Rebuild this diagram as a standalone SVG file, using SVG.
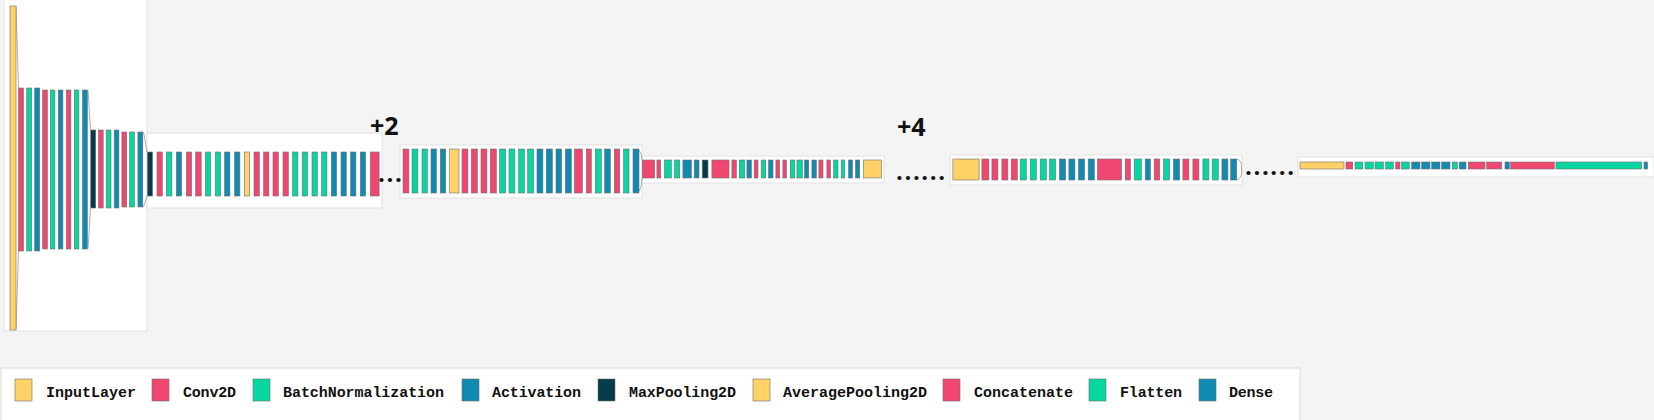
<svg xmlns="http://www.w3.org/2000/svg" width="1654" height="420" viewBox="0 0 1654 420">
<style>
.bg{fill:#f4f4f4}
.pn{fill:#ffffff;stroke:#e2e2e2;stroke-width:1}
rect.y,rect.r,rect.g,rect.b,rect.d{stroke:#6f6f6f;stroke-width:0.6}
.y{fill:#ffd166}.r{fill:#ef476f}.g{fill:#06d6a0}.b{fill:#118ab2}.d{fill:#073b4c}
.fn{fill:none;stroke:#9a9a9a;stroke-width:0.8}
.lg{font-family:"Liberation Mono",monospace;font-weight:bold;font-size:15px;fill:#111}
.pl{font-family:"Open Sans","Liberation Sans",sans-serif;font-weight:bold;font-size:25px;fill:#111}
.dt{font-family:"Open Sans","Liberation Sans",sans-serif;font-weight:bold;font-size:24px;fill:#111;letter-spacing:1.6px}
.sq{stroke:#333;stroke-width:1}
</style>
<rect class="bg" x="0" y="0" width="1654" height="420"/>
<g id="panels">
<rect class="pn" x="4" y="-1" width="143" height="332"/>
<rect class="pn" x="147" y="133" width="235" height="75"/>
<rect class="pn" x="400" y="145" width="242" height="53"/>
<rect class="pn" x="642" y="156" width="242" height="27"/>
<rect class="pn" x="950" y="155" width="292" height="30"/>
<rect class="pn" x="1298" y="157" width="356" height="20"/>
</g>
<g id="connectors">
<path class="fn" d="M16,6 L18.5,88 M16,330 L18.5,251"/>
<path class="fn" d="M88,90 L90.5,130 M88,249 L90.5,208"/>
<path class="fn" d="M143.5,132 L147,152 M143.5,207 L147,196"/>
<path class="fn" d="M636,149 Q642,151 642,160 M642,178 Q642,191 636,193"/>
<path class="fn" d="M1236,159 Q1241.5,160 1241.5,166 L1241.5,173 Q1241.5,179 1236,180"/>
<text class="dt" x="378" y="182">...</text>
<text class="dt" x="896" y="180">......</text>
<text class="dt" x="1245" y="175">......</text>
</g>
<g id="input_layer">
<rect class="y" x="10" y="6" width="6" height="324"/>
</g>
<g id="block1">
<rect class="r" x="18.5" y="88" width="5" height="163"/>
<rect class="g" x="26.7" y="88" width="5" height="163"/>
<rect class="b" x="34.7" y="88" width="5" height="163"/>
<rect class="r" x="42.7" y="90" width="4.6" height="159"/>
<rect class="g" x="50.3" y="90" width="4.6" height="159"/>
<rect class="b" x="58.3" y="90" width="4.6" height="159"/>
<rect class="r" x="66.3" y="90" width="4.6" height="159"/>
<rect class="g" x="74.3" y="90" width="4.6" height="159"/>
<rect class="b" x="82.5" y="90" width="4.8" height="159"/>
</g>
<g id="block2">
<rect class="d" x="90.7" y="130" width="5" height="78"/>
<rect class="r" x="98.5" y="130" width="4.7" height="78"/>
<rect class="g" x="106.2" y="130" width="4.8" height="78"/>
<rect class="b" x="114.2" y="130" width="4.7" height="78"/>
<rect class="r" x="121.9" y="132" width="4.8" height="75"/>
<rect class="g" x="129.5" y="132" width="4.9" height="75"/>
<rect class="b" x="137.9" y="132" width="4.9" height="75"/>
</g>
<g id="block3">
<rect class="d" x="147.5" y="152" width="5" height="44"/>
<rect class="r" x="157" y="152" width="5.3" height="44"/>
<rect class="g" x="166.3" y="152" width="5.6" height="44"/>
<rect class="b" x="176.3" y="152" width="5.3" height="44"/>
<rect class="r" x="186.3" y="152" width="5.3" height="44"/>
<rect class="r" x="195.6" y="152" width="5.6" height="44"/>
<rect class="g" x="205.3" y="152" width="5.3" height="44"/>
<rect class="g" x="215.3" y="152" width="5.3" height="44"/>
<rect class="b" x="224.6" y="152" width="5.3" height="44"/>
<rect class="b" x="234.6" y="152" width="5.3" height="44"/>
<rect class="y" x="244.3" y="152" width="5.3" height="44"/>
<rect class="r" x="254" y="152" width="5.3" height="44"/>
<rect class="r" x="263.6" y="152" width="5.3" height="44"/>
<rect class="r" x="273" y="152" width="5.3" height="44"/>
<rect class="r" x="283" y="152" width="5.3" height="44"/>
<rect class="g" x="292.6" y="152" width="5.3" height="44"/>
<rect class="g" x="302.3" y="152" width="5.3" height="44"/>
<rect class="g" x="312" y="152" width="5.3" height="44"/>
<rect class="g" x="321.6" y="152" width="5.3" height="44"/>
<rect class="b" x="331.3" y="152" width="5.3" height="44"/>
<rect class="b" x="341" y="152" width="5.3" height="44"/>
<rect class="b" x="350.6" y="152" width="5.3" height="44"/>
<rect class="b" x="360.3" y="152" width="5.3" height="44"/>
<rect class="r" x="370.3" y="152" width="8.8" height="44"/>
</g>
<g id="block4">
<rect class="r" x="403" y="149" width="5.9" height="44"/>
<rect class="g" x="412" y="149" width="5.9" height="44"/>
<rect class="g" x="422" y="149" width="5.4" height="44"/>
<rect class="b" x="431" y="149" width="5.4" height="44"/>
<rect class="b" x="440.3" y="149" width="5.4" height="44"/>
<rect class="y" x="449.6" y="149" width="9.4" height="44"/>
<rect class="r" x="462" y="149" width="5.9" height="44"/>
<rect class="r" x="471.3" y="149" width="6" height="44"/>
<rect class="r" x="481" y="149" width="5.9" height="44"/>
<rect class="r" x="490.3" y="149" width="6" height="44"/>
<rect class="g" x="499.6" y="149" width="6" height="44"/>
<rect class="g" x="509" y="149" width="5.9" height="44"/>
<rect class="g" x="518.6" y="149" width="5.7" height="44"/>
<rect class="g" x="527.6" y="149" width="6" height="44"/>
<rect class="b" x="537" y="149" width="5.9" height="44"/>
<rect class="b" x="546.3" y="149" width="6" height="44"/>
<rect class="b" x="556" y="149" width="5.6" height="44"/>
<rect class="b" x="565.3" y="149" width="6" height="44"/>
<rect class="r" x="574.3" y="149" width="8" height="44"/>
<rect class="r" x="586.3" y="149" width="5" height="44"/>
<rect class="g" x="595.3" y="149" width="6" height="44"/>
<rect class="b" x="604.6" y="149" width="5.7" height="44"/>
<rect class="r" x="614.3" y="149" width="5.4" height="44"/>
<rect class="g" x="623.6" y="149" width="5.4" height="44"/>
<rect class="b" x="633" y="149" width="6" height="44"/>
</g>
<g id="block5">
<rect class="r" x="642.3" y="160" width="12.3" height="18"/>
<rect class="r" x="656.9" y="160" width="3.8" height="18"/>
<rect class="g" x="664.5" y="160" width="6.9" height="18"/>
<rect class="g" x="674.5" y="160" width="5.2" height="18"/>
<rect class="b" x="682.9" y="160" width="8.5" height="18"/>
<rect class="b" x="694.2" y="160" width="4.8" height="18"/>
<rect class="d" x="702.2" y="160" width="5.8" height="18"/>
<rect class="r" x="711.9" y="160" width="17.1" height="18"/>
<rect class="r" x="731.9" y="160" width="4.5" height="18"/>
<rect class="g" x="739.2" y="160" width="5.5" height="18"/>
<rect class="b" x="746.9" y="160" width="4.5" height="18"/>
<rect class="r" x="754.2" y="160" width="3.8" height="18"/>
<rect class="g" x="761.2" y="160" width="4.5" height="18"/>
<rect class="b" x="768.5" y="160" width="4.5" height="18"/>
<rect class="r" x="775.9" y="160" width="3.8" height="18"/>
<rect class="r" x="782.9" y="160" width="3.6" height="18"/>
<rect class="g" x="790.2" y="160" width="4.5" height="18"/>
<rect class="g" x="796.9" y="160" width="5.5" height="18"/>
<rect class="b" x="804.5" y="160" width="4.2" height="18"/>
<rect class="b" x="811.9" y="160" width="4.5" height="18"/>
<rect class="r" x="818.9" y="160" width="4.1" height="18"/>
<rect class="r" x="826.9" y="160" width="3.6" height="18"/>
<rect class="g" x="833.5" y="160" width="4.5" height="18"/>
<rect class="g" x="841.2" y="160" width="3.6" height="18"/>
<rect class="b" x="848.5" y="160" width="4" height="18"/>
<rect class="b" x="855.5" y="160" width="4.2" height="18"/>
<rect class="y" x="863.5" y="160" width="18" height="18"/>
</g>
<g id="block6">
<rect class="y" x="952.9" y="159" width="26.2" height="21"/>
<rect class="r" x="981.9" y="159" width="7" height="21"/>
<rect class="r" x="991.9" y="159" width="6" height="21"/>
<rect class="r" x="1001.9" y="159" width="6" height="21"/>
<rect class="r" x="1011.2" y="159" width="6.1" height="21"/>
<rect class="g" x="1020.2" y="159" width="6.1" height="21"/>
<rect class="g" x="1030.2" y="159" width="6.1" height="21"/>
<rect class="g" x="1040.2" y="159" width="6.1" height="21"/>
<rect class="g" x="1049.5" y="159" width="6.1" height="21"/>
<rect class="b" x="1059.5" y="159" width="6.1" height="21"/>
<rect class="b" x="1068.9" y="159" width="6" height="21"/>
<rect class="b" x="1078.5" y="159" width="6.1" height="21"/>
<rect class="b" x="1088.2" y="159" width="6.1" height="21"/>
<rect class="r" x="1097.5" y="159" width="24" height="21"/>
<rect class="r" x="1125.2" y="159" width="5.2" height="21"/>
<rect class="g" x="1134.2" y="159" width="7.2" height="21"/>
<rect class="b" x="1145.2" y="159" width="5.2" height="21"/>
<rect class="r" x="1154.2" y="159" width="5.5" height="21"/>
<rect class="g" x="1163.5" y="159" width="6.1" height="21"/>
<rect class="b" x="1173.5" y="159" width="6.1" height="21"/>
<rect class="r" x="1182.9" y="159" width="6" height="21"/>
<rect class="r" x="1192.9" y="159" width="6" height="21"/>
<rect class="g" x="1202.9" y="159" width="6" height="21"/>
<rect class="g" x="1212.2" y="159" width="6.1" height="21"/>
<rect class="b" x="1221.9" y="159" width="6" height="21"/>
<rect class="b" x="1230.7" y="159" width="6" height="21"/>
</g>
<g id="block7">
<rect class="y" x="1300" y="162" width="44" height="7"/>
<rect class="r" x="1346" y="162" width="6.7" height="7"/>
<rect class="g" x="1355" y="162" width="7.7" height="7"/>
<rect class="g" x="1365" y="162" width="8.3" height="7"/>
<rect class="g" x="1375" y="162" width="8.3" height="7"/>
<rect class="g" x="1385.7" y="162" width="7.6" height="7"/>
<rect class="r" x="1395.7" y="162" width="4.3" height="7"/>
<rect class="g" x="1401.7" y="162" width="7.6" height="7"/>
<rect class="b" x="1411.7" y="162" width="8.3" height="7"/>
<rect class="b" x="1421.7" y="162" width="8.3" height="7"/>
<rect class="b" x="1431.7" y="162" width="8.3" height="7"/>
<rect class="b" x="1441.7" y="162" width="8.3" height="7"/>
<rect class="g" x="1452.3" y="162" width="5" height="7"/>
<rect class="b" x="1459.3" y="162" width="6.7" height="7"/>
<rect class="r" x="1468.3" y="162" width="16.7" height="7"/>
<rect class="r" x="1486.7" y="162" width="15" height="7"/>
<rect class="b" x="1505" y="162" width="4.3" height="7"/>
<rect class="r" x="1510.7" y="162" width="43.6" height="7"/>
<rect class="g" x="1556" y="162" width="85.7" height="7"/>
<rect class="b" x="1644" y="162" width="3.5" height="7"/>
</g>
<g id="labels">
<text class="pl" x="370" y="135">+2</text>
<text class="pl" x="897" y="136">+4</text>
</g>
<g id="legend">
<rect x="1" y="368" width="1299" height="60" fill="#ffffff" stroke="#dcdcdc" stroke-width="1"/>
<g id="leg_input"><rect class="y sq" x="15" y="379" width="17" height="22"/><text class="lg" x="46" y="397" textLength="90">InputLayer</text></g>
<g id="leg_conv"><rect class="r sq" x="152" y="379" width="17" height="22"/><text class="lg" x="183" y="397" textLength="53">Conv2D</text></g>
<g id="leg_bn"><rect class="g sq" x="253" y="379" width="17" height="22"/><text class="lg" x="283" y="397" textLength="161">BatchNormalization</text></g>
<g id="leg_act"><rect class="b sq" x="462" y="379" width="17" height="22"/><text class="lg" x="492" y="397" textLength="89">Activation</text></g>
<g id="leg_maxpool"><rect class="d sq" x="598" y="379" width="17" height="22"/><text class="lg" x="629" y="397" textLength="107">MaxPooling2D</text></g>
<g id="leg_avgpool"><rect class="y sq" x="753" y="379" width="17" height="22"/><text class="lg" x="783" y="397" textLength="144">AveragePooling2D</text></g>
<g id="leg_concat"><rect class="r sq" x="943" y="379" width="17" height="22"/><text class="lg" x="974" y="397" textLength="99">Concatenate</text></g>
<g id="leg_flatten"><rect class="g sq" x="1089" y="379" width="17" height="22"/><text class="lg" x="1120" y="397" textLength="62">Flatten</text></g>
<g id="leg_dense"><rect class="b sq" x="1199" y="379" width="17" height="22"/><text class="lg" x="1229" y="397" textLength="44">Dense</text></g>
</g>
</svg>
